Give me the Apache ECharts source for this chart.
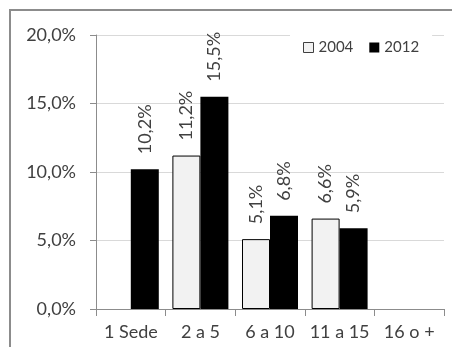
<!DOCTYPE html>
<html><head><meta charset="utf-8">
<script src="https://cdn.jsdelivr.net/npm/echarts@6/dist/echarts.min.js"></script>
<style>html,body{margin:0;padding:0;background:#fff}#c{width:452px;height:347px}</style>
</head><body><div id="c"></div>
<script>
const categories = ['1 Sede', '2 a 5', '6 a 10', '11 a 15', '16 o +'];
const seriesNames = ['2004', '2012'];
const values2004 = [null, 11.2, 5.1, 6.6, null];
const values2012 = [10.2, 15.5, 6.8, 5.9, null];
const yTicks = [0, 5, 10, 15, 20];

const fmt = v => v.toFixed(1).replace('.', ',') + '%';
const font = 'Lato';
const labelCfg = {
  show: true, position: 'top', rotate: 90, align: 'left', verticalAlign: 'middle',
  distance: 15, fontFamily: font, fontSize: 18, color: '#404040',
  formatter: p => fmt(p.value)
};
const chart = echarts.init(document.getElementById('c'));
chart.setOption({
  animation: false,
  backgroundColor: '#fff',
  graphic: [{type: 'rect', shape: {x: 10, y: 10, width: 460, height: 360},
    style: {fill: 'none', stroke: '#8c8c8c', lineWidth: 2}, z: 100}],
  grid: {left: 96, right: 8, top: 35, bottom: 38},
  legend: {
    left: 290, top: 32, padding: [8, 13, 8, 13], backgroundColor: '#fff',
    itemWidth: 10, itemHeight: 10, itemGap: 16, z: 10,
    textStyle: {fontFamily: font, fontSize: 15, color: '#404040'},
    data: [
      {name: seriesNames[0], icon: 'rect', itemStyle: {color: '#f2f2f2', borderColor: '#404040', borderWidth: 1}},
      {name: seriesNames[1], icon: 'rect'}
    ]
  },
  xAxis: {
    type: 'category', data: categories,
    axisLine: {lineStyle: {color: '#8c8c8c'}},
    axisTick: {show: true, length: 7, lineStyle: {color: '#8c8c8c'}},
    axisLabel: {fontFamily: font, fontSize: 18, color: '#404040', margin: 14, interval: 0}
  },
  yAxis: {
    type: 'value', min: yTicks[0], max: yTicks[yTicks.length - 1], interval: 5,
    axisLine: {show: true, lineStyle: {color: '#8c8c8c'}},
    axisTick: {show: true, length: 6, lineStyle: {color: '#8c8c8c'}},
    splitLine: {lineStyle: {color: '#d9d9d9'}},
    axisLabel: {fontFamily: font, fontSize: 18, color: '#404040', margin: 20, formatter: v => fmt(v)}
  },
  series: [
    {name: seriesNames[0], type: 'bar', data: values2004, barWidth: 28, barGap: '0%',
     itemStyle: {color: '#f2f2f2', borderColor: '#000', borderWidth: 1}, label: labelCfg},
    {name: seriesNames[1], type: 'bar', data: values2012, barWidth: 28, barGap: '0%',
     itemStyle: {color: '#000'}, label: labelCfg}
  ]
});
</script></body></html>
